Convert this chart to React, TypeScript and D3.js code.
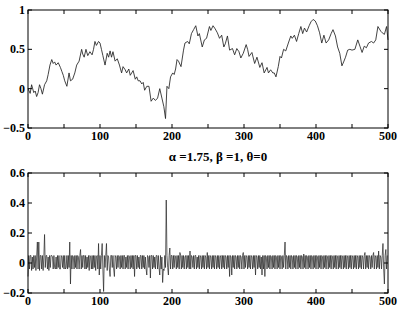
import React from "react";
import * as d3 from "d3";

// ---- data ----
const xTicks = [0, 50, 100, 150, 200, 250, 300, 350, 400, 450, 500];
const xTickLabels = ["0", "100", "200", "300", "400", "500"];
const topYTicks = [-0.5, 0, 0.5, 1];
const topYLabels = ["\u22120.5", "0", "0.5", "1"];
const botYTicks = [-0.2, 0, 0.2, 0.4, 0.6];
const botYLabels = ["\u22120.2", "0", "0.2", "0.4", "0.6"];
const title = "\u03b1 =1.75, \u03b2 =1, \u03b8=0";

// top panel: process path (t, value)
const topT = [0,3,5,8,10,12,14,16,18,20,23,26,28,30.5,33,35,37,39,42,45,47,49,51,54,57,59,62,65,67.6,71,74.5,76,78,80.5,83,86,89,91,93,95,98,100,102,104,107,110,112,114,116,118,121,124,127,130,132,135,137,140,142,146,149,151,153,155.6,158,160,162,165,168,171,174,177,180,183,186,188.7,191,193,195.6,198,201,203,205,207,209,212.5,216,218,221.7,224,227,230,233,236,238,242,245,248,252,254,257,260,263,266,269,272,274,277,280,284,287,290,293,295.6,299,303,305,307,311,314.8,318,322,325,328,332,334,337,340,342,344.4,347.6,350,352,355,358,361.6,365,367,370,373,376,379,381.5,384,387,390.5,393,396,399,402,405,408,411,414,417.6,421,423.6,427,430,433,436,438.4,441,444,447,450,454,458,461,464,467,470,473,477,480,483,486,490,492,495,498,500];
const topV = [0,-0.06,0.05,-0.05,-0.03,-0.1,-0.05,0.05,0,-0.07,0.05,0.1,0.18,0.3,0.37,0.32,0.34,0.3,0.33,0.27,0.22,0.17,0.1,0.03,0.2,0.1,0.12,0.2,0.3,0.35,0.5,0.44,0.4,0.5,0.42,0.47,0.43,0.5,0.6,0.55,0.6,0.58,0.5,0.42,0.3,0.45,0.4,0.48,0.4,0.47,0.35,0.38,0.3,0.2,0.28,0.24,0.2,0.25,0.17,0.23,0.12,0.15,0.1,0.1,0.06,0.08,-0.02,0.03,0.03,-0.16,-0.12,-0.15,-0.12,0,-0.12,-0.23,-0.38,0.03,0,0.15,0.2,0.18,0.25,0.37,0.35,0.28,0.49,0.58,0.6,0.57,0.7,0.75,0.8,0.67,0.7,0.53,0.62,0.64,0.79,0.74,0.8,0.76,0.71,0.64,0.68,0.53,0.57,0.67,0.49,0.51,0.43,0.51,0.47,0.39,0.45,0.56,0.5,0.41,0.46,0.32,0.4,0.27,0.33,0.2,0.27,0.2,0.24,0.2,0.2,0.15,0.28,0.41,0.39,0.5,0.48,0.58,0.67,0.64,0.68,0.6,0.7,0.79,0.7,0.77,0.72,0.8,0.85,0.88,0.86,0.8,0.71,0.58,0.68,0.58,0.62,0.7,0.75,0.67,0.53,0.45,0.29,0.34,0.4,0.49,0.5,0.49,0.5,0.62,0.54,0.46,0.54,0.52,0.58,0.6,0.58,0.62,0.79,0.73,0.71,0.69,0.79,0.62];

// bottom panel: increments, one per step
const incr = [
-.09,.05,-.04,.05,.05,-.05,.04,-.04,.05,-.03,
.05,-.05,.04,.14,-.04,.14,-.05,.05,.05,-.04,
.05,-.05,.04,.19,-.03,.05,.05,-.04,.04,-.05,
.05,-.03,.05,.05,.04,-.04,.05,-.03,-.04,.04,
-.04,.05,-.03,.05,-.04,-.04,.05,.04,-.03,.05,
-.04,.05,-.04,-.03,.05,-.04,.05,-.03,.14,-.14,
.05,-.04,.05,.04,-.04,.05,-.03,.05,-.04,.05,
.04,-.04,.05,.09,-.04,.05,-.03,.05,.05,-.04,
.05,-.04,.04,-.03,.05,-.05,.05,.04,-.04,.05,
-.04,.05,-.03,.05,-.05,.04,.05,-.04,.13,-.08,
.05,-.04,.05,.13,-.04,-.19,.05,-.03,.05,.13,
-.05,.05,.04,-.04,-.09,.05,.05,-.03,.05,-.04,
-.09,.05,.04,-.04,.05,-.03,.05,.04,-.04,.05,
-.03,.05,-.04,.05,.05,-.04,.04,-.03,.05,-.04,
.05,.04,-.04,.05,-.03,.05,-.04,.05,-.09,.05,
.05,-.04,.05,-.03,.04,-.04,.05,.05,-.04,.05,
-.03,.05,-.04,.04,-.04,-.08,.05,.04,-.03,.05,
-.10,.05,.05,-.04,.05,-.03,.04,-.04,.05,.05,
-.04,.05,-.03,-.08,.05,-.04,.04,-.13,-.04,-.05,
.05,-.03,.42,.05,-.03,-.08,.05,.10,-.04,.05,
.05,-.04,.05,-.03,.05,.04,-.04,.05,-.03,.05,
-.04,.07,.05,-.04,.05,-.03,.05,-.04,.04,.05,
-.04,.05,-.03,.05,-.04,.08,-.04,.05,.04,-.03,
.05,-.04,.05,.05,-.04,.04,-.03,.05,-.04,.05,
.04,-.04,.05,-.03,.05,-.04,.05,.04,-.04,.07,
-.03,.05,-.04,.05,.04,-.04,.05,-.03,.05,-.04,
.05,.04,-.04,.05,-.03,.05,-.04,.04,.05,-.04,
.05,-.03,.05,-.04,.05,.04,-.04,.05,-.03,.05,
-.09,.05,.04,-.08,.05,-.03,.05,-.04,.05,.04,
-.04,.05,-.03,.05,-.04,.05,.04,-.04,.05,.07,
-.04,.05,-.03,.05,.04,-.04,.05,-.03,.05,-.04,
.05,.04,-.04,.05,-.03,.05,-.08,.05,.04,-.04,
.05,-.03,.05,-.04,.04,-.08,.05,-.04,.05,-.09,
.05,.04,-.04,.05,-.03,.05,-.04,.05,.04,-.04,
.05,-.03,.05,-.04,.05,.04,-.04,.05,-.03,.05,
-.04,.05,.04,-.04,.05,-.03,.05,.14,-.04,.05,
.04,-.04,.05,-.03,.05,-.04,.05,.04,-.04,.05,
-.03,.05,-.04,.05,.04,-.04,.05,-.03,.05,-.04,
.05,.04,-.04,.06,-.03,.05,-.04,.05,.04,-.04,
.05,-.03,.05,-.04,.05,.04,-.04,.05,-.03,.05,
-.04,.05,.04,-.04,.05,-.03,.05,-.04,.05,.04,
-.04,.05,-.03,.05,-.04,.05,.04,-.04,.05,-.03,
.05,-.04,.05,.04,-.04,.05,-.03,.05,-.04,.05,
.04,-.04,.05,-.03,.05,-.04,.05,.04,-.04,.05,
-.03,.05,-.04,.05,.04,-.04,.05,-.03,.05,-.04,
.05,.04,-.04,.05,-.03,.05,-.04,.05,.04,-.04,
.05,-.03,.05,-.04,.05,.04,-.04,.05,.07,-.04,
.05,-.03,.05,-.04,.05,.04,-.04,.05,-.03,.05,
.07,-.04,.05,.04,-.04,.05,-.03,.08,-.04,.05,
.04,-.04,.05,.13,-.04,-.14,.05,.09,-.04,.05
];

const W = 399, H = 310;
const FONT = "Liberation Serif, Times New Roman, serif";

const x = d3.scaleLinear().domain([0, 500]).range([28, 388]);
const yTop = d3.scaleLinear().domain([-0.5, 1]).range([128, 10]);
const yBot = d3.scaleLinear().domain([-0.2, 0.6]).range([293, 173]);

function Panel({ y, yTicks, yLabels, path, labelY, sw }: any) {
  const [y0, y1] = y.range();
  const x0 = x.range()[0], x1 = x.range()[1];
  const tl = 4;
  return (
    <g>
      <path d={path} fill="none" stroke="#222" strokeWidth={sw} strokeLinejoin="round" />
      <rect x={x0} y={y1} width={x1 - x0} height={y0 - y1} fill="none" stroke="#000" strokeWidth={1} />
      {xTicks.map((t) => (
        <g key={"xt" + t}>
          <line x1={x(t)} x2={x(t)} y1={y0} y2={y0 - tl} stroke="#000" />
          <line x1={x(t)} x2={x(t)} y1={y1} y2={y1 + tl} stroke="#000" />
        </g>
      ))}
      {yTicks.map((v: number) => (
        <g key={"yt" + v}>
          <line x1={x0} x2={x0 + tl} y1={y(v)} y2={y(v)} stroke="#000" />
          <line x1={x1} x2={x1 - tl} y1={y(v)} y2={y(v)} stroke="#000" />
        </g>
      ))}
      {xTickLabels.map((s, i) => (
        <text key={"xl" + s} x={x(i * 100)} y={labelY} textAnchor="middle" fontFamily={FONT} fontWeight="bold" fontSize={12}>{s}</text>
      ))}
      {yLabels.map((s: string, i: number) => (
        <text key={"yl" + s} x={25} y={y(yTicks[i]) + 4} textAnchor="end" fontFamily={FONT} fontWeight="bold" fontSize={12}>{s}</text>
      ))}
    </g>
  );
}

export default function App() {
  const topLine = d3.line<number>().x((_, i) => x(topT[i])).y((v) => yTop(v));
  const botLine = d3.line<number>().x((_, i) => x(i)).y((v) => yBot(v));
  return (
    <svg width={W} height={H} style={{ position: "absolute", left: 0, top: 0, background: "#fff" }}>
      <rect width={W} height={H} fill="#fff" />
      <Panel y={yTop} yTicks={topYTicks} yLabels={topYLabels} path={topLine(topV) || ""} labelY={140} sw={0.85} />
      <text x={218} y={161} textAnchor="middle" fontFamily={FONT} fontWeight="bold" fontSize={13}>{title}</text>
      <Panel y={yBot} yTicks={botYTicks} yLabels={botYLabels} path={botLine(incr) || ""} labelY={305} sw={0.7} />
    </svg>
  );
}
